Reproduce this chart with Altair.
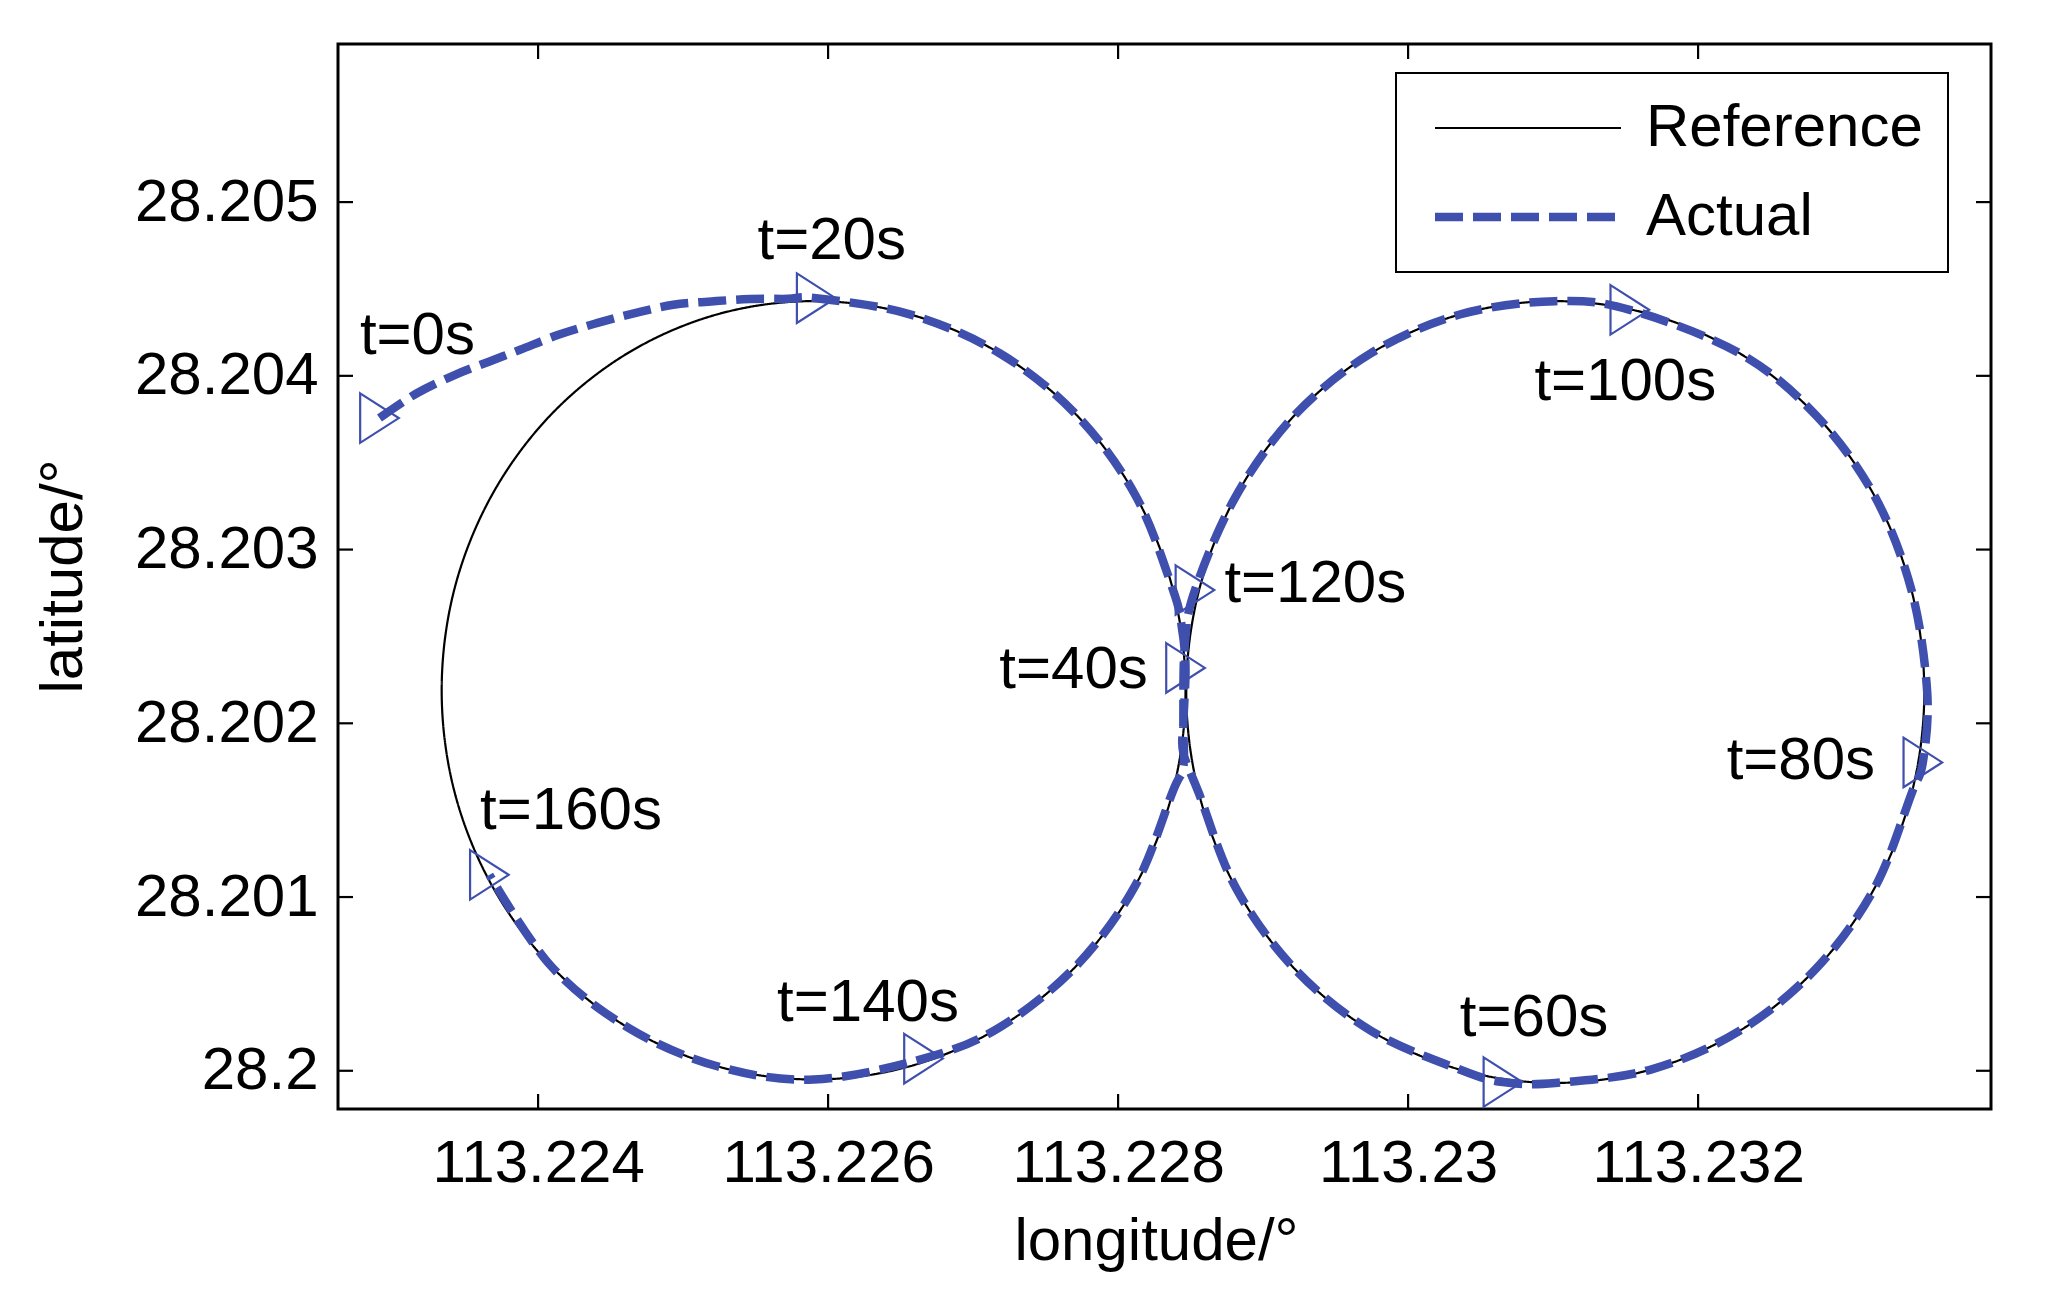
import altair as alt
import pandas as pd

# ---------------- data ----------------
x_ticks = [113.224, 113.226, 113.228, 113.230, 113.232]
y_ticks = [28.200, 28.201, 28.202, 28.203, 28.204, 28.205]

series_names = ["Reference", "Actual"]

# reference trajectory: two loops of the figure eight
ref_left_lon = [113.228465, 113.228378, 113.228121, 113.227714, 113.227183, 113.226564,
                113.225900, 113.225236, 113.224617, 113.224086, 113.223679, 113.223422,
                113.223335, 113.223422, 113.223679, 113.224086, 113.224617, 113.225236,
                113.225900, 113.226564, 113.227183, 113.227714, 113.228121, 113.228378]
ref_left_lat = [28.202190, 28.202770, 28.203310, 28.203774, 28.204130, 28.204354,
                28.204430, 28.204354, 28.204130, 28.203774, 28.203310, 28.202770,
                28.202190, 28.201610, 28.201070, 28.200606, 28.200250, 28.200026,
                28.199950, 28.200026, 28.200250, 28.200606, 28.201070, 28.201610]
ref_right_lon = [113.233560, 113.233473, 113.233219, 113.232815, 113.232288, 113.231674,
                 113.231015, 113.230356, 113.229742, 113.229215, 113.228811, 113.228557,
                 113.228470, 113.228557, 113.228811, 113.229215, 113.229742, 113.230356,
                 113.231015, 113.231674, 113.232288, 113.232815, 113.233219, 113.233473]
ref_right_lat = [28.202180, 28.202762, 28.203305, 28.203771, 28.204129, 28.204353,
                 28.204430, 28.204353, 28.204129, 28.203771, 28.203305, 28.202762,
                 28.202180, 28.201598, 28.201055, 28.200589, 28.200231, 28.200007,
                 28.199930, 28.200007, 28.200231, 28.200589, 28.201055, 28.201598]

# actual trajectory, t = 0 s ... 160 s
act_lon = [113.222906, 113.223164, 113.223428, 113.223665, 113.223876, 113.224140, 113.224404,
           113.224668, 113.224932, 113.225196, 113.225460, 113.225724, 113.225918,
           113.226564, 113.227183, 113.227714, 113.228121, 113.228378, 113.228440, 113.228465,
           113.228450, 113.228450,
           113.228557, 113.228811, 113.229215, 113.229742, 113.230356, 113.230654, 113.231015,
           113.231674, 113.232288, 113.232815, 113.233219, 113.233473, 113.233550, 113.233580,
           113.233473, 113.233219, 113.232815, 113.232288, 113.231529, 113.231015, 113.230356,
           113.229742, 113.229215, 113.228811, 113.228530,
           113.228460, 113.228450, 113.228450,
           113.228378, 113.228121, 113.227714, 113.227183, 113.226658, 113.225900, 113.225236,
           113.224617, 113.224086, 113.223664]
act_lat = [28.203757, 28.203900, 28.204006, 28.204083, 28.204150, 28.204236, 28.204303,
           28.204361, 28.204409, 28.204428, 28.204442, 28.204443, 28.204447,
           28.204354, 28.204130, 28.203774, 28.203310, 28.202770, 28.202550, 28.202319,
           28.202000, 28.201830,
           28.201598, 28.201055, 28.200589, 28.200231, 28.200007, 28.199935, 28.199930,
           28.200007, 28.200231, 28.200589, 28.201055, 28.201598, 28.201775, 28.202180,
           28.202762, 28.203305, 28.203771, 28.204129, 28.204380, 28.204430, 28.204353,
           28.204129, 28.203771, 28.203305, 28.202767,
           28.202450, 28.202000, 28.201750,
           28.201610, 28.201070, 28.200606, 28.200250, 28.200070, 28.199950, 28.200026,
           28.200250, 28.200606, 28.201128]

# time markers
marker_lon = [113.222906, 113.225918, 113.228465, 113.230654, 113.233550,
              113.231529, 113.228530, 113.226658, 113.223664]
marker_lat = [28.203757, 28.204447, 28.202319, 28.199935, 28.201775,
              28.204380, 28.202767, 28.200070, 28.201128]

label_text = ["t=0s", "t=20s", "t=40s", "t=60s", "t=80s",
              "t=100s", "t=120s", "t=140s", "t=160s"]
label_lon = [113.222771, 113.225513, 113.227181, 113.230357, 113.232197,
             113.230871, 113.228733, 113.225648, 113.223600]
label_lat = [28.204124, 28.204674, 28.202204, 28.200202, 28.201677,
             28.203861, 28.202701, 28.200285, 28.201391]

# ---------------- tables ----------------
ref_df = pd.DataFrame({
    "lon": ref_left_lon + ref_right_lon,
    "lat": ref_left_lat + ref_right_lat,
    "loop": ["left"] * len(ref_left_lon) + ["right"] * len(ref_right_lon),
    "idx": list(range(len(ref_left_lon))) + list(range(len(ref_right_lon))),
    "series": "Reference",
})
act_df = pd.DataFrame({"lon": act_lon, "lat": act_lat,
                       "idx": list(range(len(act_lon))), "series": "Actual"})
mk_df = pd.DataFrame({"lon": marker_lon, "lat": marker_lat})
lb_df = pd.DataFrame({"lon": label_lon, "lat": label_lat, "text": label_text})
xt_df = pd.DataFrame({"lon": x_ticks})
yt_df = pd.DataFrame({"lat": y_ticks})

# ---------------- style ----------------
FONT = "Liberation Sans"
BLUE = "#3F4FAD"
W, H = 1653, 1065
TICK = 15
FS = 60

xscale = alt.Scale(domain=[113.22262, 113.23402], nice=False, zero=False)
yscale = alt.Scale(domain=[28.19978, 28.20591], nice=False, zero=False)

xaxis = alt.Axis(values=x_ticks, format="~g", ticks=False, tickSize=0, domain=False,
                 grid=False, labelFontSize=FS, labelFont=FONT, labelColor="black",
                 labelPadding=72, labelBaseline="alphabetic", labelFlush=False,
                 labelOverlap=False, labelLimit=0, title="longitude/°", titleFont=FONT,
                 titleFontSize=FS, titleFontWeight="normal", titleColor="black",
                 titleX=818, titleY=150, titleBaseline="alphabetic", titleAlign="center")
yaxis = alt.Axis(values=y_ticks, format="~g", ticks=False, tickSize=0, domain=False,
                 grid=False, labelFontSize=FS, labelFont=FONT, labelColor="black",
                 labelPadding=20, labelFlush=False, labelOverlap=False, labelLimit=0,
                 title="latitude/°", titleFont=FONT, titleFontSize=FS,
                 titleFontWeight="normal", titleColor="black", titleAngle=270,
                 titleX=-257, titleY=532, titleBaseline="alphabetic", titleAlign="center")

X = alt.X("lon:Q", scale=xscale, axis=xaxis)
Y = alt.Y("lat:Q", scale=yscale, axis=yaxis)

legend = alt.Legend(title=None, orient="none", legendX=1058, legendY=29,
                    symbolType="M -6 0 L 6 0", symbolSize=961,
                    labelFontSize=FS, labelFont=FONT, labelColor="black",
                    labelOffset=88, symbolOffset=77, padding=25, rowPadding=29,
                    strokeColor="black", fillColor="white", labelLimit=0)

color = alt.Color("series:N", scale=alt.Scale(domain=series_names, range=["black", BLUE]),
                  legend=legend)
dash = alt.StrokeDash("series:N", scale=alt.Scale(domain=series_names,
                                                    range=[[1, 0], [28, 10]]),
                      legend=legend)
swidth = alt.StrokeWidth("series:N", scale=alt.Scale(type="point", domain=series_names,
                                                       range=[2.2, 8.5], padding=0),
                         legend=legend)

ref_line = alt.Chart(ref_df).mark_line(interpolate="cardinal-closed").encode(
    x=X, y=Y, color=color, strokeDash=dash, strokeWidth=swidth,
    detail="loop:N", order="idx:Q")

act_line = alt.Chart(act_df).mark_line(interpolate="cardinal").encode(
    x=X, y=Y, color=color, strokeDash=dash, strokeWidth=swidth, order="idx:Q")

markers = alt.Chart(mk_df).mark_point(
    shape="M -0.78 -1 L 0.78 0 L -0.78 1 Z", size=2450, filled=False,
    color=BLUE, strokeWidth=2.2, opacity=1).encode(x=X, y=Y)

labels = alt.Chart(lb_df).mark_text(
    align="left", baseline="alphabetic", fontSize=FS, font=FONT, color="black").encode(
    x=X, y=Y, text="text:N")

tick_style = dict(color="black", strokeWidth=2.2)
t_bottom = alt.Chart(xt_df).mark_rule(**tick_style).encode(
    x=X, y=alt.value(H), y2=alt.value(H - TICK))
t_top = alt.Chart(xt_df).mark_rule(**tick_style).encode(
    x=X, y=alt.value(0), y2=alt.value(TICK))
t_left = alt.Chart(yt_df).mark_rule(**tick_style).encode(
    y=Y, x=alt.value(0), x2=alt.value(TICK))
t_right = alt.Chart(yt_df).mark_rule(**tick_style).encode(
    y=Y, x=alt.value(W), x2=alt.value(W - TICK))

chart = alt.layer(ref_line, act_line, markers, labels, t_bottom, t_top, t_left, t_right).properties(
    width=W, height=H,
    padding={"left": 330, "top": 36, "right": 40, "bottom": 170},
    autosize=alt.AutoSizeParams(type="none"),
    background="white",
).configure_view(stroke="black", strokeWidth=3).configure_legend(strokeWidth=2)

chart.save("out.html", embed_options={"renderer": "svg", "actions": False})
